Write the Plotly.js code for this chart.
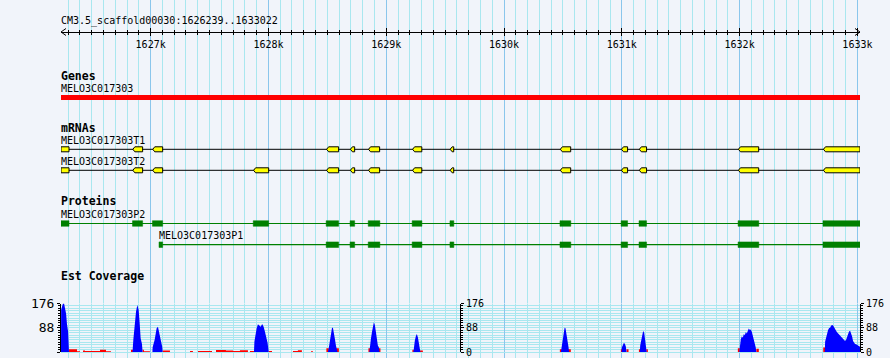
<!DOCTYPE html>
<html>
<head>
<meta charset="utf-8">
<script src="https://cdn.plot.ly/plotly-3.0.1.min.js"></script>
<style>html,body{margin:0;padding:0;background:#f1f4fa;}#chart{width:890px;height:358px;}</style>
</head>
<body>
<div id="chart"></div>
<script>
// ---------------- data ----------------
const chrom = 'CM3.5_scaffold00030';
const viewStart = 1626239;
const viewEnd = 1633022;
const rulerTickVals = [1627000, 1628000, 1629000, 1630000, 1631000, 1632000, 1633000];
const rulerTickText = ['1627k', '1628k', '1629k', '1630k', '1631k', '1632k', '1633k'];

const geneName = 'MELO3C017303';
const geneStart = 1626239;
const geneEnd = 1633022;

const t1Name = 'MELO3C017303T1';
const t1ExonStarts = [1626239, 1626849, 1627018, 1628494, 1628696, 1628850, 1629224, 1629543, 1630478, 1630997, 1631149, 1631990, 1632712];
const t1ExonEnds   = [1626307, 1626932, 1627102, 1628596, 1628732, 1628944, 1629302, 1629573, 1630566, 1631049, 1631210, 1632162, 1633022];

const t2Name = 'MELO3C017303T2';
const t2ExonStarts = [1626239, 1626849, 1627018, 1627874, 1628494, 1628696, 1628850, 1629224, 1629543, 1630478, 1630997, 1631149, 1631990, 1632712];
const t2ExonEnds   = [1626307, 1626932, 1627102, 1628002, 1628596, 1628732, 1628944, 1629302, 1629573, 1630566, 1631049, 1631210, 1632162, 1633022];

const p2Name = 'MELO3C017303P2';
const p2CdsStarts = [1626239, 1626846, 1627015, 1627871, 1628490, 1628693, 1628847, 1629220, 1629541, 1630475, 1630994, 1631146, 1631987, 1632708];
const p2CdsEnds   = [1626307, 1626932, 1627102, 1628002, 1628596, 1628732, 1628946, 1629303, 1629574, 1630567, 1631049, 1631210, 1632163, 1633022];

const p1Name = 'MELO3C017303P1';
const p1CdsStarts = [1627071, 1628490, 1628693, 1628847, 1629220, 1629541, 1630475, 1630994, 1631146, 1631987, 1632708];
const p1CdsEnds   = [1627102, 1628596, 1628732, 1628946, 1629303, 1629574, 1630567, 1631049, 1631210, 1632163, 1633022];

const covMax = 176;
const covTickVals = [0, 88, 176];
const covTickText = ['0', '88', '176'];

// EST coverage (blue)
const estPos = [
  1626239,1626240,1626248,1626256,1626265,1626273,1626282,1626290,1626299,1626307,
  1626846,1626853,1626865,1626876,1626887,1626898,1626907,1626915,1626926,1626932,
  1627015,1627017,1627034,1627043,1627051,1627062,1627071,1627079,1627090,1627099,1627102,
  1627877,1627881,1627888,1627900,1627911,1627922,1627934,1627947,1627959,1627970,1627981,1627993,1628002,
  1628505,1628513,1628522,1628530,1628539,1628547,1628556,1628564,1628573,1628581,1628586,
  1628857,1628861,1628870,1628879,1628887,1628895,1628904,1628912,1628921,1628929,1628938,1628942,
  1629231,1629235,1629243,1629252,1629260,1629269,1629277,1629286,1629290,
  1630483,1630488,1630497,1630505,1630514,1630522,1630531,1630539,1630548,1630552,
  1630998,1631000,1631009,1631017,1631026,1631034,1631040,
  1631153,1631156,1631164,1631173,1631181,1631190,1631198,1631207,1631211,
  1631997,1632002,1632010,1632019,1632027,1632036,1632044,1632053,1632061,1632070,1632078,1632087,1632095,1632104,1632112,1632121,1632129,1632137,1632142,
  1632723,1632726,1632734,1632743,1632751,1632760,1632768,1632776,1632785,1632794,1632802,1632810,1632819,1632827,1632836,1632844,1632853,1632861,1632870,1632878,1632887,1632895,1632904,1632912,1632921,1632929,1632938,1632946,1632955,1632963,1632972,1632980,1632989,1632997,1633006,1633014,1633022
];
const estCov = [
  0,152,165,176,176,160,140,100,75,0,
  0,44,116,147,171,153,104,50,30,0,
  0,17,44,66,86,92,76,58,32,17,0,
  0,38,62,86,101,96,92,102,92,74,56,33,0,
  0,16,44,66,86,89,73,48,24,12,0,
  0,24,48,73,93,108,97,73,48,24,16,0,
  0,18,42,58,65,53,30,16,0,
  0,16,42,69,88,86,65,38,16,0,
  0,16,28,33,30,20,0,
  0,24,45,67,76,70,45,20,0,
  0,30,45,57,52,65,61,73,67,77,85,80,82,73,61,45,28,16,0,
  0,38,56,68,80,87,88,95,98,96,88,80,77,72,68,64,59,56,52,50,44,40,44,56,68,74,77,68,56,40,32,29,28,25,22,19,19
];

// second coverage track (red), step-wise
const otherPos = [
  1626307,1626375,1626400,1626426,1626443,1626570,1626621,1626663,
  1626833,1626850,1626932,1626943,1626994,
  1627102,1627164,1627334,1627359,1627402,1627521,1627555,1627639,1627699,1627758,1627826,1627843,1627877,
  1628002,1628030,1628208,1628250,1628284,1628361,1628378,
  1628492,1628513,1628573,1628598,1628849,1628866,1628929,1628951,
  1629222,1629235,1629286,1629311,
  1630474,1630491,1630542,1630567,
  1630992,1631005,1631040,1631057,1631145,1631158,1631208,1631221,
  1631985,1632002,1632142,1632163,1632710,1632727
];
const otherCov = [
  10,3,0,5,4,8,3,0,
  8,0,8,3,0,
  5,0,4,0,4,0,7,5,4,6,0,4,0,
  4,0,4,6,0,3,0,
  14,0,14,0,14,0,14,0,
  8,0,5,0,
  10,0,10,0,
  10,0,10,0,10,0,10,0,
  14,0,12,0,16,0
];

// ---------------- styling ----------------
const BG = '#f1f4fa';
const GRID_MINOR = '#a9e7ef';
const GRID_MAJOR = '#8ac6ec';
const FONT = 'DejaVu Sans Mono';
const pxPerBp = 799 / (viewEnd - viewStart);
const bpPerPx = 1 / pxPerBp;

// track vertical positions (pixel rows on the track axis)
const rowRuler = 32;
const rowGene = 97.5;
const rowT1 = 149.3, rowT2 = 170.3;
const rowP2 = 223.5, rowP1 = 244.7;

function exonShapes(starts, ends, yc, half, tipPx) {
  const xs = [], ys = [];
  const tip = tipPx * bpPerPx;
  for (let i = 0; i < starts.length; i++) {
    const s = starts[i], e = ends[i];
    if (s <= viewStart) {
      xs.push(s, e, e, s, s, null);
      ys.push(yc - half, yc - half, yc + half, yc + half, yc - half, null);
    } else {
      xs.push(s, s + tip, e, e, s + tip, s, null);
      ys.push(yc, yc - half, yc - half, yc + half, yc + half, yc, null);
    }
  }
  return {xs, ys};
}
function boxShapes(starts, ends, yc, half) {
  const xs = [], ys = [];
  for (let i = 0; i < starts.length; i++) {
    xs.push(starts[i], ends[i], ends[i], starts[i], starts[i], null);
    ys.push(yc - half, yc - half, yc + half, yc + half, yc - half, null);
  }
  return {xs, ys};
}

const traces = [];
function invisible(xa, ya) {
  traces.push({type: 'scatter', x: [viewStart], y: [0], xaxis: xa, yaxis: ya, mode: 'markers',
    marker: {opacity: 0, size: 1}, hoverinfo: 'skip', showlegend: false});
}
invisible('x', 'y');
invisible('x2', 'y');
invisible('x3', 'y');

// ruler arrows
const arrowBp = 5 * bpPerPx;
traces.push({type: 'scatter', x: [viewStart + arrowBp, viewStart, viewStart + arrowBp], y: [rowRuler - 3.5, rowRuler, rowRuler + 3.5],
  mode: 'lines', line: {color: '#000', width: 1}, cliponaxis: false, hoverinfo: 'skip', showlegend: false});
traces.push({type: 'scatter', x: [viewEnd - arrowBp, viewEnd, viewEnd - arrowBp], y: [rowRuler - 3.5, rowRuler, rowRuler + 3.5],
  mode: 'lines', line: {color: '#000', width: 1}, cliponaxis: false, hoverinfo: 'skip', showlegend: false});

// gene bar
traces.push({type: 'scatter', x: [geneStart, geneEnd, geneEnd, geneStart, geneStart], y: [rowGene - 2.5, rowGene - 2.5, rowGene + 2.5, rowGene + 2.5, rowGene - 2.5],
  mode: 'lines', fill: 'toself', fillcolor: '#ff0000', line: {width: 0, color: '#ff0000'}, cliponaxis: false, hoverinfo: 'skip', showlegend: false});

// transcripts
function transcript(starts, ends, yc) {
  traces.push({type: 'scatter', x: [starts[0], ends[ends.length - 1]], y: [yc, yc], mode: 'lines',
    line: {color: '#000', width: 1}, hoverinfo: 'skip', showlegend: false});
  const p = exonShapes(starts, ends, yc, 2.5, 2);
  traces.push({type: 'scatter', x: p.xs, y: p.ys, mode: 'lines', fill: 'toself', fillcolor: '#ffff00',
    line: {color: '#000', width: 1}, cliponaxis: false, hoverinfo: 'skip', showlegend: false});
}
transcript(t1ExonStarts, t1ExonEnds, rowT1);
transcript(t2ExonStarts, t2ExonEnds, rowT2);

// proteins
function protein(starts, ends, yc) {
  traces.push({type: 'scatter', x: [starts[0], ends[ends.length - 1]], y: [yc, yc], mode: 'lines',
    line: {color: '#008000', width: 1.2}, hoverinfo: 'skip', showlegend: false});
  const p = boxShapes(starts, ends, yc, 2.8);
  traces.push({type: 'scatter', x: p.xs, y: p.ys, mode: 'lines', fill: 'toself', fillcolor: '#008000',
    line: {color: '#008000', width: 0.5}, cliponaxis: false, hoverinfo: 'skip', showlegend: false});
}
protein(p2CdsStarts, p2CdsEnds, rowP2);
protein(p1CdsStarts, p1CdsEnds, rowP1);

// coverage
traces.push({type: 'scatter', x: otherPos, y: otherCov, xaxis: 'x', yaxis: 'y2', mode: 'lines',
  line: {shape: 'hv', width: 0, color: '#ff0000'}, fill: 'tozeroy', fillcolor: '#ff0000', hoverinfo: 'skip', showlegend: false});
traces.push({type: 'scatter', x: estPos, y: estCov, xaxis: 'x', yaxis: 'y2', mode: 'lines',
  line: {width: 0, color: '#0000ff'}, fill: 'tozeroy', fillcolor: '#0000ff', hoverinfo: 'skip', showlegend: false});
invisible('x', 'y3');
invisible('x', 'y4');

// ---------------- layout ----------------
const covDomain = [(358 - 352) / 358, (358 - 303.5) / 358];
const covAxisBase = {
  range: [0, covMax], showline: true, linecolor: '#000', linewidth: 1,
  tickmode: 'array', tickvals: covTickVals, ticktext: covTickText,
  ticks: 'outside', ticklen: 3, tickwidth: 1, tickcolor: '#000',
  showgrid: false, zeroline: false, fixedrange: true,
  minor: {tickmode: 'linear', tick0: 0, dtick: covMax / 20, ticks: 'outside', ticklen: 2, tickcolor: '#000', showgrid: false}
};

function label(text, y, opts) {
  return Object.assign({text: text, xref: 'paper', x: 0, xanchor: 'left', xshift: -2, yref: 'y', y: y, yanchor: 'middle',
    showarrow: false, font: {family: FONT, size: 10, color: '#000'}}, opts || {});
}

const layout = {
  width: 890, height: 358,
  margin: {l: 61, r: 30, t: 0, b: 0, pad: 0},
  paper_bgcolor: BG, plot_bgcolor: BG,
  showlegend: false, hovermode: false,
  font: {family: FONT, size: 10, color: '#000'},
  xaxis: {
    range: [viewStart, viewEnd], domain: [0, 1], fixedrange: true,
    tickmode: 'linear', tick0: 0, dtick: 1000, showticklabels: false, ticks: '',
    showgrid: true, gridcolor: GRID_MAJOR, gridwidth: 1, zeroline: false, showline: false,
    minor: {tickmode: 'linear', tick0: 0, dtick: 100, showgrid: true, gridcolor: GRID_MINOR, gridwidth: 1, ticks: ''}
  },
  yaxis: {range: [358, 0], domain: [0, 1], showgrid: false, zeroline: false, showticklabels: false, ticks: '', fixedrange: true},
  xaxis2: {
    overlaying: 'x', anchor: 'free', position: (358 - rowRuler) / 358, side: 'bottom',
    range: [viewStart, viewEnd], fixedrange: true,
    showline: true, linecolor: '#000', linewidth: 1, showgrid: false, zeroline: false,
    tickmode: 'array', tickvals: rulerTickVals, ticktext: rulerTickText,
    ticks: 'outside', ticklen: 3, tickwidth: 1, tickcolor: '#000',
    tickfont: {family: FONT, size: 10, color: '#000'},
    minor: {tickmode: 'linear', tick0: 0, dtick: 100, ticks: 'outside', ticklen: 2, tickcolor: '#000', showgrid: false}
  },
  xaxis3: {
    overlaying: 'x', anchor: 'free', position: (358 - rowRuler) / 358, side: 'top',
    range: [viewStart, viewEnd], fixedrange: true,
    showline: false, showgrid: false, zeroline: false, showticklabels: false,
    tickmode: 'array', tickvals: rulerTickVals,
    ticks: 'outside', ticklen: 4, tickwidth: 1, tickcolor: '#000',
    minor: {tickmode: 'linear', tick0: 0, dtick: 100, ticks: 'outside', ticklen: 2, tickcolor: '#000', showgrid: false}
  },
  yaxis2: Object.assign({}, covAxisBase, {
    domain: covDomain, anchor: 'x', side: 'left',
    tickfont: {family: FONT, size: 13, color: '#000'},
    zeroline: true, zerolinecolor: GRID_MINOR, zerolinewidth: 1,
    minor: {tickmode: 'linear', tick0: 0, dtick: covMax / 20, ticks: 'outside', ticklen: 2, tickcolor: '#000',
      showgrid: true, gridcolor: GRID_MINOR, gridwidth: 1}
  }),
  yaxis3: Object.assign({}, covAxisBase, {
    overlaying: 'y2', anchor: 'free', position: (460 - 61) / 799, side: 'right',
    tickfont: {family: FONT, size: 10, color: '#000'}
  }),
  yaxis4: Object.assign({}, covAxisBase, {
    overlaying: 'y2', anchor: 'x', side: 'right',
    tickfont: {family: FONT, size: 10, color: '#000'}
  }),
  annotations: [
    label(chrom + ':' + viewStart + '..' + viewEnd, 21),
    label('Genes', 76, {font: {family: FONT, size: 11.5, color: '#000', weight: 'bold'}}),
    label(geneName, 88.3),
    label('mRNAs', 127.5, {font: {family: FONT, size: 11.5, color: '#000', weight: 'bold'}}),
    label(t1Name, 140),
    label(t2Name, 161.3),
    label('Proteins', 201, {font: {family: FONT, size: 11.5, color: '#000', weight: 'bold'}}),
    label(p2Name, 214),
    label(p1Name, 235.7, {xref: 'x', x: p1CdsStarts[0]}),
    label('Est Coverage', 275.8, {font: {family: FONT, size: 11.5, color: '#000', weight: 'bold'}})
  ]
};

Plotly.newPlot('chart', traces, layout, {displayModeBar: false, staticPlot: true});
</script>
</body>
</html>
